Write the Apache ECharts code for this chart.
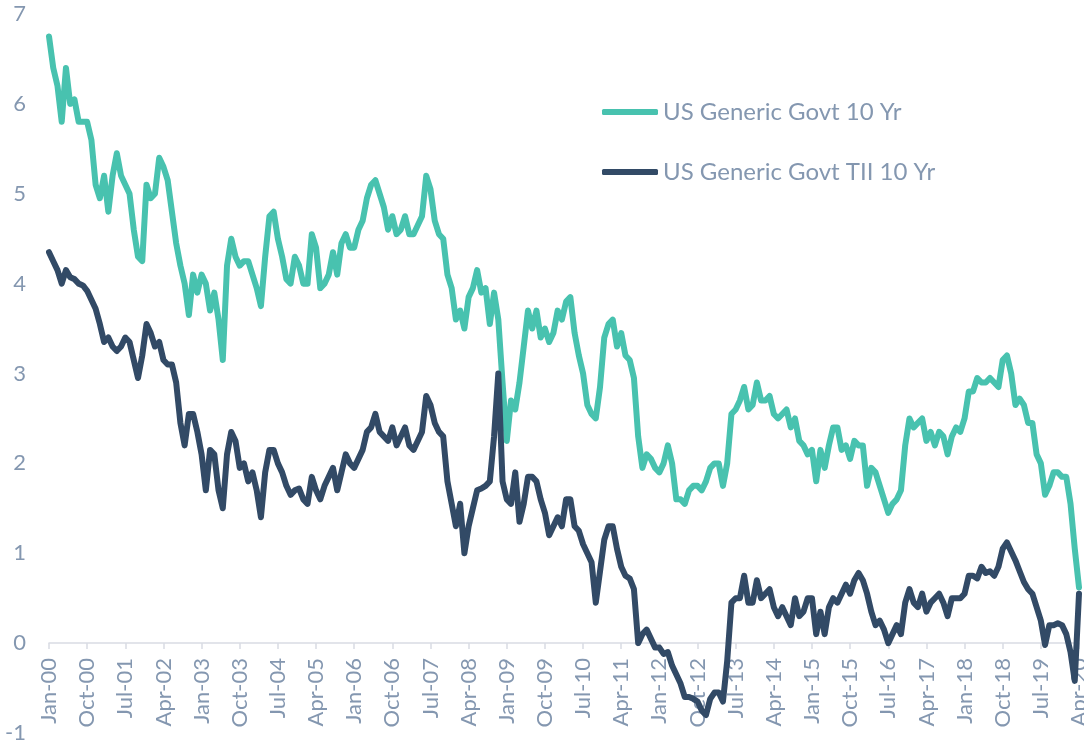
<!DOCTYPE html>
<html>
<head>
<meta charset="utf-8">
<script src="https://cdn.jsdelivr.net/npm/echarts@6/dist/echarts.min.js"></script>
<style>
html,body{margin:0;padding:0;background:#fff;}
#chart{width:1084px;height:744px;}
</style>
</head>
<body>
<div id="chart"></div>
<script>
// Monthly observations, Jan-2000 .. Apr-2020 (244 months)
var startYear = 2000;
var monthNames = ['Jan','Feb','Mar','Apr','May','Jun','Jul','Aug','Sep','Oct','Nov','Dec'];

var nominal10y = [
  6.75, 6.4, 6.2, 5.8, 6.4, 6.0, 6.05, 5.8, 5.8, 5.8,
  5.6, 5.1, 4.95, 5.2, 4.8, 5.2, 5.45, 5.2, 5.1, 5.0,
  4.6, 4.3, 4.25, 5.1, 4.95, 5.0, 5.4, 5.3, 5.15, 4.8,
  4.45, 4.2, 4.0, 3.65, 4.1, 3.9, 4.1, 4.0, 3.7, 3.9,
  3.6, 3.15, 4.2, 4.5, 4.3, 4.2, 4.25, 4.25, 4.1, 3.95,
  3.75, 4.3, 4.75, 4.8, 4.5, 4.3, 4.05, 4.0, 4.3, 4.2,
  4.0, 4.0, 4.55, 4.4, 3.95, 4.0, 4.1, 4.35, 4.1, 4.45,
  4.55, 4.4, 4.4, 4.6, 4.7, 4.95, 5.1, 5.15, 5.0, 4.85,
  4.6, 4.75, 4.55, 4.6, 4.75, 4.55, 4.55, 4.65, 4.75, 5.2,
  5.05, 4.7, 4.55, 4.5, 4.1, 3.95, 3.6, 3.7, 3.5, 3.85,
  3.95, 4.15, 3.9, 3.95, 3.55, 3.9, 3.6, 2.9, 2.25, 2.7,
  2.6, 2.9, 3.3, 3.7, 3.5, 3.7, 3.4, 3.5, 3.35, 3.45,
  3.7, 3.6, 3.8, 3.85, 3.45, 3.2, 3.0, 2.65, 2.55, 2.5,
  2.85, 3.4, 3.55, 3.6, 3.3, 3.45, 3.2, 3.15, 2.95, 2.3,
  1.95, 2.1, 2.05, 1.95, 1.9, 2.0, 2.2, 2.0, 1.6, 1.6,
  1.55, 1.7, 1.75, 1.75, 1.7, 1.8, 1.95, 2.0, 2.0, 1.75,
  2.0, 2.55, 2.6, 2.7, 2.85, 2.6, 2.65, 2.9, 2.7, 2.7,
  2.75, 2.55, 2.5, 2.55, 2.6, 2.4, 2.5, 2.25, 2.2, 2.1,
  2.15, 1.8, 2.15, 1.95, 2.2, 2.4, 2.4, 2.15, 2.2, 2.05,
  2.25, 2.2, 2.2, 1.75, 1.95, 1.9, 1.75, 1.6, 1.45, 1.55,
  1.6, 1.7, 2.2, 2.5, 2.4, 2.45, 2.5, 2.25, 2.35, 2.2,
  2.35, 2.3, 2.1, 2.3, 2.4, 2.35, 2.5, 2.8, 2.8, 2.95,
  2.9, 2.9, 2.95, 2.9, 2.85, 3.15, 3.2, 3.0, 2.65, 2.72,
  2.65, 2.45, 2.45, 2.1, 2.0, 1.65, 1.75, 1.9, 1.9, 1.85,
  1.85, 1.55, 1.05, 0.62
];

var tips10y = [
  4.35, 4.25, 4.15, 4.0, 4.15, 4.07, 4.05, 4.0, 3.98, 3.92,
  3.82, 3.72, 3.55, 3.35, 3.4, 3.3, 3.25, 3.3, 3.4, 3.35,
  3.15, 2.95, 3.2, 3.55, 3.45, 3.3, 3.35, 3.15, 3.1, 3.1,
  2.9, 2.45, 2.2, 2.55, 2.55, 2.35, 2.1, 1.7, 2.15, 2.1,
  1.7, 1.5, 2.1, 2.35, 2.25, 1.95, 2.0, 1.8, 1.9, 1.7,
  1.4, 1.9, 2.15, 2.15, 2.0, 1.9, 1.75, 1.65, 1.7, 1.72,
  1.6, 1.55, 1.85, 1.7, 1.6, 1.75, 1.85, 1.95, 1.7, 1.9,
  2.1, 2.0, 1.95, 2.05, 2.15, 2.35, 2.4, 2.55, 2.35, 2.3,
  2.25, 2.4, 2.2, 2.3, 2.4, 2.2, 2.15, 2.25, 2.35, 2.75,
  2.65, 2.45, 2.35, 2.3, 1.8, 1.55, 1.3, 1.55, 1.0, 1.3,
  1.5, 1.7, 1.72, 1.75, 1.8, 2.3, 3.0, 1.8, 1.6, 1.55,
  1.9, 1.35, 1.55, 1.85, 1.85, 1.8, 1.6, 1.45, 1.2, 1.3,
  1.4, 1.3, 1.6, 1.6, 1.3, 1.25, 1.1, 1.0, 0.9, 0.45,
  0.8, 1.15, 1.3, 1.3, 1.05, 0.85, 0.75, 0.72, 0.6, 0.0,
  0.1, 0.15, 0.05, -0.05, -0.05, -0.12, -0.1, -0.25, -0.35, -0.45,
  -0.6, -0.6, -0.62, -0.65, -0.75, -0.8, -0.62, -0.55, -0.55, -0.65,
  -0.2, 0.45, 0.5, 0.5, 0.75, 0.45, 0.45, 0.7, 0.5, 0.55,
  0.6, 0.4, 0.3, 0.4, 0.3, 0.2, 0.5, 0.3, 0.35, 0.5,
  0.5, 0.1, 0.35, 0.1, 0.4, 0.5, 0.45, 0.55, 0.65, 0.55,
  0.7, 0.78, 0.7, 0.55, 0.35, 0.2, 0.25, 0.15, 0.0, 0.1,
  0.2, 0.1, 0.45, 0.6, 0.45, 0.4, 0.55, 0.35, 0.45, 0.5,
  0.55, 0.45, 0.3, 0.5, 0.5, 0.5, 0.55, 0.75, 0.75, 0.72,
  0.85, 0.78, 0.8, 0.75, 0.85, 1.05, 1.12, 1.02, 0.92, 0.8,
  0.68, 0.6, 0.55, 0.4, 0.25, -0.02, 0.2, 0.2, 0.22, 0.2,
  0.1, -0.1, -0.42, 0.55
];

var seriesNames = ['US Generic Govt 10 Yr', 'US Generic Govt TII 10 Yr'];
var seriesColors = ['#48C2AF', '#324A66'];
var yTicks = { min: -1, max: 7, step: 1 };
var labelEvery = 9; // one tick label every 9 months

var categories = [];
for (var i = 0; i < nominal10y.length; i++) {
  var y = startYear + Math.floor(i / 12);
  var mo = monthNames[i % 12];
  categories.push(mo + '-' + String(y % 100).padStart(2, '0'));
}

var labelColor = '#8497B0';
var axisColor = '#D9DCE3';
var font = 'Lato, "Open Sans", sans-serif';

var chart = echarts.init(document.getElementById('chart'), null, { renderer: 'canvas' });
chart.setOption({
  animation: false,
  backgroundColor: '#ffffff',
  grid: [
    // plotting area: value range -1 .. 7
    { left: 49, right: 5, top: 14, bottom: 11, containLabel: false, outerBoundsMode: 'none' },
    // axis-only area whose bottom edge is the zero line (carries the date labels)
    { left: 49, right: 5, top: 14, bottom: 101, containLabel: false, outerBoundsMode: 'none' }
  ],
  legend: {
    orient: 'vertical',
    left: 602,
    top: 100,
    padding: 0,
    itemWidth: 56,
    itemHeight: 6,
    itemGap: 36,
    icon: 'roundRect',
    textStyle: { color: labelColor, fontSize: 24, fontFamily: font },
    data: seriesNames
  },
  xAxis: [
    {
      type: 'category',
      gridIndex: 0,
      data: categories,
      boundaryGap: false,
      axisLine: { show: false },
      axisTick: { show: false },
      axisLabel: { show: false },
      splitLine: { show: false }
    },
    {
      type: 'category',
      gridIndex: 1,
      data: categories,
      boundaryGap: false,
      axisLine: { onZero: false, lineStyle: { color: axisColor, width: 1.5 } },
      axisTick: { show: true, interval: labelEvery - 1, length: 6, lineStyle: { color: axisColor, width: 1.5 } },
      axisLabel: {
        interval: labelEvery - 1,
        rotate: 90,
        margin: 15,
        color: labelColor,
        fontSize: 22,
        fontFamily: font
      },
      splitLine: { show: false }
    }
  ],
  yAxis: [
    {
      type: 'value',
      gridIndex: 0,
      min: yTicks.min,
      max: yTicks.max,
      interval: yTicks.step,
      axisLine: { show: false },
      axisTick: { show: false },
      splitLine: { show: false },
      axisLabel: { color: labelColor, fontSize: 22, fontFamily: font, margin: 23 }
    },
    {
      type: 'value',
      gridIndex: 1,
      min: 0,
      max: 1,
      show: false
    }
  ],
  series: [
    {
      name: seriesNames[0],
      type: 'line',
      xAxisIndex: 0,
      yAxisIndex: 0,
      data: nominal10y,
      showSymbol: false,
      color: seriesColors[0],
      lineStyle: { width: 6, color: seriesColors[0], cap: 'round', join: 'round' },
      z: 2
    },
    {
      name: seriesNames[1],
      type: 'line',
      xAxisIndex: 0,
      yAxisIndex: 0,
      data: tips10y,
      showSymbol: false,
      color: seriesColors[1],
      lineStyle: { width: 6, color: seriesColors[1], cap: 'round', join: 'round' },
      z: 3
    }
  ]
});
</script>
</body>
</html>
